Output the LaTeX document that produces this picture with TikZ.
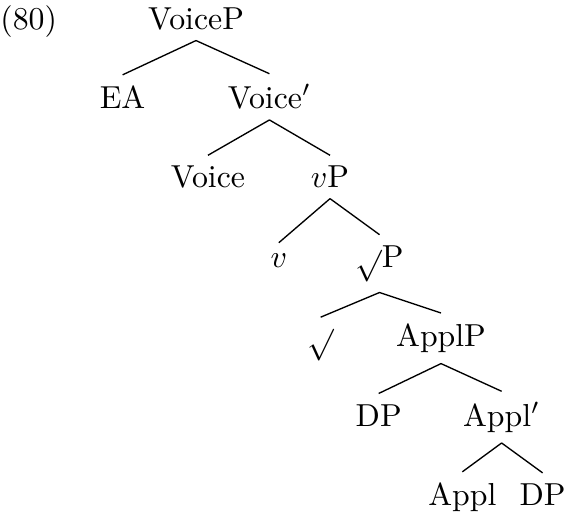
\documentclass[tikz,border=0pt]{standalone}
\usepackage{amsmath,amssymb}
\usepackage{tikz}
\usetikzlibrary{positioning}

\begin{document}
\begin{tikzpicture}[
    cat/.style={anchor=base, inner sep=3.2pt, scale=1.06},
    branch/.style={line width=0.45pt}
]
\useasboundingbox (-2.296,0.340) rectangle (4.334,-5.704);

% Example number
\node[cat] (num) at (-1.96,0) {(80)};

% Nodes, one row per level
\node[cat] (voicep) at (0,0) {VoiceP};
\node[cat] (ea) at (-0.86,-0.93) {EA};
\node[cat] (voiceb) at (0.86,-0.93) {Voice$'$};
\node[cat] (voice) at (0.14,-1.86) {Voice};
\node[cat] (vp) at (1.57,-1.86) {$v$P};
\node[cat] (v) at (0.97,-2.79) {$v$};
\node[cat] (rootp) at (2.15,-2.79) {$\sqrt{}$P};
\node[cat] (root) at (1.46,-3.72) {$\sqrt{}$};
\node[cat] (applp) at (2.87,-3.72) {ApplP};
\node[cat] (dp1) at (2.14,-4.65) {DP};
\node[cat] (applb) at (3.58,-4.65) {Appl$'$};
\node[cat] (appl) at (3.12,-5.58) {Appl};
\node[cat] (dp2) at (4.06,-5.58) {DP};

% Branches
\draw[branch] (voicep.south) -- (ea.north) (voicep.south) -- (voiceb.north);
\draw[branch] (voiceb.south) -- (voice.north) (voiceb.south) -- (vp.north);
\draw[branch] (vp.south) -- (v.north) (vp.south) -- (rootp.north);
\draw[branch] (rootp.south) -- (root.north) (rootp.south) -- (applp.north);
\draw[branch] (applp.south) -- (dp1.north) (applp.south) -- (applb.north);
\draw[branch] (applb.south) -- (appl.north) (applb.south) -- (dp2.north);
\end{tikzpicture}
\end{document}
